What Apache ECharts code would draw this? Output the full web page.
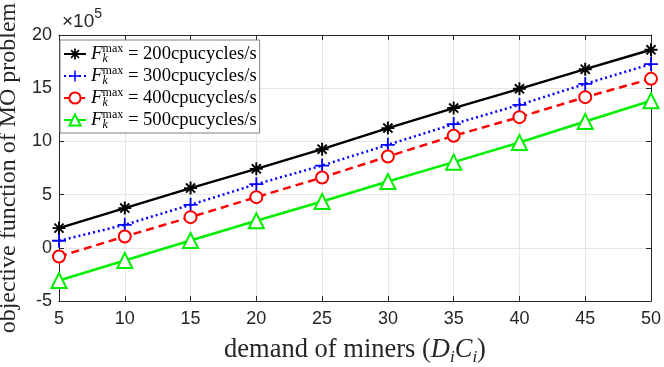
<!DOCTYPE html>
<html>
<head>
<meta charset="utf-8" />
<title></title>
<style>
html, body { margin: 0; padding: 0; background: #fff; }
#chart { width: 664px; height: 367px; }
</style>
</head>
<body>
<div id="chart"></div>
<script src="https://cdn.jsdelivr.net/npm/echarts@6/dist/echarts.min.js"></script>
<script>
// demand of miners (x axis)
var demand = [5, 10, 15, 20, 25, 30, 35, 40, 45, 50];
// F_k^max values (cpucycles/s), one line each
var fmax = [200, 300, 400, 500];
// objective function, in units of 1e5
var obj200 = [1.85, 3.73, 5.61, 7.42, 9.27, 11.25, 13.13, 14.94, 16.79, 18.61];
var obj300 = [0.66, 2.16, 4.04, 5.98, 7.73, 9.68, 11.63, 13.44, 15.4, 17.27];
var obj400 = [-0.82, 1.06, 2.88, 4.76, 6.61, 8.58, 10.53, 12.28, 14.16, 15.88];
var obj500 = [-3.07, -1.19, 0.69, 2.54, 4.35, 6.23, 8.05, 9.9, 11.87, 13.82];
var yTicks = [-5, 0, 5, 10, 15, 20];

var SERIF = "'Liberation Serif', 'DejaVu Serif', serif";
var SANS = "'Liberation Sans', Arial, sans-serif";
var AX = '#262626';

// asterisk and plus markers
var starPath = 'path://M0,8.5L20,8.5L20,11.5L0,11.5Z M8.5,0L11.5,0L11.5,20L8.5,20Z ' +
  'M4.06,1.94L18.06,15.94L15.94,18.06L1.94,4.06Z M15.94,1.94L18.06,4.06L4.06,18.06L1.94,15.94Z';
var plusPath = 'path://M0,8.7L20,8.7L20,11.3L0,11.3Z M8.7,0L11.3,0L11.3,20L8.7,20Z';

function pairs(ys) {
  return demand.map(function (x, i) { return [x, ys[i]]; });
}

var chart = echarts.init(document.getElementById('chart'), null, { renderer: 'canvas' });

var styles = [
  { data: obj200, color: '#000000', type: 'solid', symbol: starPath, size: 13 },
  { data: obj300, color: '#0000ff', type: [2, 3], symbol: plusPath, size: 14 },
  { data: obj400, color: '#ff0000', type: [8, 5], symbol: 'emptyCircle', size: 12 },
  { data: obj500, color: '#00ee00', type: 'solid', symbol: 'emptyTriangle', size: 15 }
];

var series = styles.map(function (s, i) {
  var hollow = s.symbol.indexOf('empty') === 0;
  return {
    name: String(fmax[i]),
    type: 'line',
    data: pairs(s.data),
    symbol: s.symbol,
    symbolSize: s.size,
    showAllSymbol: true,
    animation: false,
    lineStyle: { color: s.color, width: 2.5, type: s.type },
    itemStyle: hollow
      ? { color: s.color, borderColor: s.color, borderWidth: 2.2 }
      : { color: s.color, borderWidth: 0 },
    z: 3 + i
  };
});

var valueAxisCommon = {
  type: 'value',
  splitLine: { show: false },
  axisTick: { show: true, inside: true, length: 5, lineStyle: { color: AX } },
  axisLine: { show: true, onZero: false, lineStyle: { color: AX, width: 1 } }
};

var option = {
  backgroundColor: '#fff',
  animation: false,
  title: {
    text: '{a|\u00d710}{b|5}',
    left: 57,
    top: 2,
    textStyle: {
      fontWeight: 'normal',
      rich: {
        a: { fontFamily: SANS, fontSize: 19, fontWeight: 'normal', color: AX, verticalAlign: 'bottom', lineHeight: 24 },
        b: { fontFamily: SANS, fontSize: 14, fontWeight: 'normal', color: AX, verticalAlign: 'top', lineHeight: 24 }
      }
    }
  },
  grid: { left: 59, right: 13, top: 35, bottom: 66, containLabel: false, outerBoundsMode: 'none' },
  legend: {
    orient: 'vertical',
    left: 60,
    top: 40,
    padding: [3, 3, 2, 3],
    itemGap: 0,
    itemWidth: 22,
    itemHeight: 14,
    backgroundColor: '#fff',
    borderColor: '#7f7f7f',
    borderWidth: 1,
    borderRadius: 0,
    data: series.map(function (s) { return s.name; }),
    formatter: function (name) {
      return '{f|F}{sub|k}{sup|max}{t| = ' + name + 'cpucycles/s}';
    },
    textStyle: {
      rich: {
        f: { fontFamily: SERIF, fontStyle: 'italic', fontSize: 19, color: '#000', lineHeight: 22 },
        sub: { fontFamily: SERIF, fontStyle: 'italic', fontSize: 12, color: '#000', width: 0, verticalAlign: 'bottom', lineHeight: 12 },
        sup: { fontFamily: SERIF, fontSize: 12, color: '#000', verticalAlign: 'top', lineHeight: 12 },
        t: { fontFamily: SERIF, fontSize: 18.6, color: '#000', lineHeight: 22 }
      }
    }
  },
  xAxis: [
    Object.assign({}, valueAxisCommon, {
      min: 5, max: 50, interval: 5,
      position: 'bottom',
      name: '{n|demand of miners (}{i|D}{s|i}{i|C}{s|i}{n|)}',
      nameLocation: 'middle',
      nameGap: 34,
      nameTextStyle: {
        rich: {
          n: { fontFamily: SERIF, fontSize: 26.5, color: AX, lineHeight: 31 },
          i: { fontFamily: SERIF, fontStyle: 'italic', fontSize: 26.5, color: AX, lineHeight: 31 },
          s: { fontFamily: SERIF, fontStyle: 'italic', fontSize: 17, color: AX, verticalAlign: 'bottom', lineHeight: 23 }
        }
      },
      splitLine: { show: true, lineStyle: { color: '#e6e6e6', width: 1 } },
      axisLabel: { fontFamily: SANS, fontSize: 18, color: AX, margin: 9 }
    }),
    Object.assign({}, valueAxisCommon, {
      min: 5, max: 50, interval: 5,
      position: 'top',
      axisLabel: { show: false }
    })
  ],
  yAxis: [
    Object.assign({}, valueAxisCommon, {
      min: yTicks[0], max: yTicks[yTicks.length - 1], interval: 5,
      position: 'left',
      name: 'objective function of MO problem',
      nameLocation: 'middle',
      nameGap: 32,
      nameTextStyle: { fontFamily: SERIF, fontSize: 24, color: AX },
      splitLine: { show: true, lineStyle: { color: '#e6e6e6', width: 1 } },
      axisLabel: { fontFamily: SANS, fontSize: 18, color: AX, margin: 7 }
    }),
    Object.assign({}, valueAxisCommon, {
      min: yTicks[0], max: yTicks[yTicks.length - 1], interval: 5,
      position: 'right',
      axisLabel: { show: false }
    })
  ],
  series: series
};

chart.setOption(option);
</script>
</body>
</html>
